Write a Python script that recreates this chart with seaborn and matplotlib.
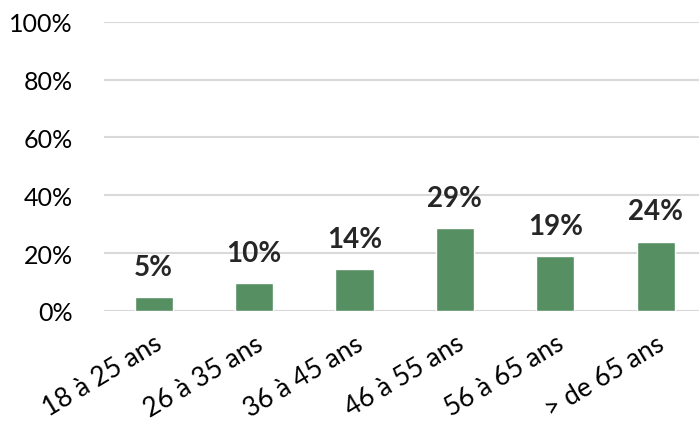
import pandas as pd
import matplotlib.pyplot as plt
import seaborn as sns
from matplotlib.ticker import PercentFormatter

# Data
age_groups = ['18 à 25 ans', '26 à 35 ans', '36 à 45 ans', '46 à 55 ans', '56 à 65 ans', '> de 65 ans']
shares = [0.049, 0.096, 0.144, 0.287, 0.190, 0.240]

df = pd.DataFrame({'age': age_groups, 'share': shares})

sns.set_style('white')
plt.rcParams['font.family'] = ['Lato', 'DejaVu Sans']

fig = plt.figure(figsize=(6.99, 4.35), dpi=100)
ax = fig.add_axes([103.5 / 699, (435 - 312) / 435, (699 - 103.5) / 699, (312 - 22.7) / 435])

sns.barplot(data=df, x='age', y='share', color='#558F62', saturation=1, width=0.38, ax=ax)

ax.set_ylim(0, 1)
ax.set_xlim(-0.5, -0.5 + (699 - 103.5) / 100.4)
ax.set_yticks([0, 0.2, 0.4, 0.6, 0.8, 1.0])
ax.yaxis.set_major_formatter(PercentFormatter(1.0, decimals=0))
ax.grid(axis='y', color='#D9D9D9', linewidth=1.5)
ax.set_axisbelow(True)
for s in ax.spines.values():
    s.set_visible(False)
ax.set_xlabel('')
ax.set_ylabel('')
ax.tick_params(axis='y', length=0, labelsize=18, colors='black', pad=22)
ax.tick_params(axis='x', length=0, labelsize=19, colors='black', pad=14)
plt.setp(ax.get_xticklabels(), rotation=31, ha='right', rotation_mode='anchor')

# value labels above bars
for i, v in enumerate(shares):
    ax.annotate(f'{v:.0%}', (i, v), xytext=(0, 16), textcoords='offset points',
                ha='center', va='baseline', fontsize=20, fontweight='bold')

fig.savefig('out.png', dpi=100)
